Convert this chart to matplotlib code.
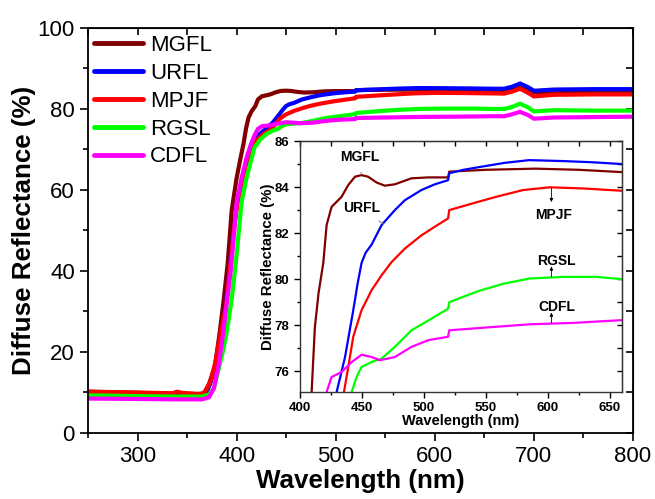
import matplotlib
matplotlib.use("Agg")
import matplotlib.pyplot as plt
import numpy as np

plt.rcParams['font.family'] = ['Liberation Sans', 'DejaVu Sans']

# ---- data (wavelength nm, reflectance %) ----
labels = ['MGFL', 'URFL', 'MPJF', 'RGSL', 'CDFL']
colors = ['#800000', '#0000ff', '#ff0000', '#00ff00', '#ff00ff']

mgfl_wl = [250, 300, 340, 360, 367, 372, 378, 383, 387, 391, 395, 400, 404, 407, 409.4, 412, 415,
           418.8, 421.5, 425.5, 429.6, 433.6, 439, 444.4, 449.7, 455, 461.8, 468.5, 476.6, 490,
           503.5, 519.6, 520.5, 550, 590, 625, 660, 670, 678, 686, 694, 700, 720, 760, 800]
mgfl_r = [10.2, 9.9, 9.7, 9.6, 9.8, 12, 16.4, 25, 33, 42, 55, 63, 68, 71.5, 75.1, 77.9, 79.4,
          80.7, 82.35, 83.14, 83.36, 83.58, 84.09, 84.45, 84.52, 84.45, 84.2, 84.06, 84.12, 84.38,
          84.42, 84.42, 84.67, 84.75, 84.8, 84.75, 84.65, 84.7, 85.2, 85.8, 85.0, 84.1, 84.3, 84.4, 84.4]

urfl_wl = [250, 300, 340, 360, 368, 373, 378, 383, 388, 392, 396, 400, 405, 410, 415, 420, 425,
           429.6, 436.3, 443, 446.5, 449.7, 453, 457.8, 465.9, 476.6, 484.7, 498, 508.9, 519.6,
           520.5, 532, 545, 565, 585, 612, 635, 660, 670, 678, 686, 694, 700, 720, 760, 800]
urfl_r = [9.2, 9.0, 9.0, 8.9, 9.2, 12, 16, 22, 30, 38, 48, 56, 62, 67, 70.5, 73, 74.2,
          75.1, 76.6, 78.65, 79.8, 80.7, 81.15, 81.5, 82.35, 83.0, 83.43, 83.87, 84.12, 84.3,
          84.6, 84.75, 84.87, 85.05, 85.17, 85.13, 85.08, 85.0, 85.0, 85.5, 86.3, 85.4, 84.5,
          84.8, 84.9, 84.9]

mpjf_wl = [250, 300, 335, 340, 345, 365, 369, 374, 379, 384, 389, 393, 397, 401, 405, 410, 415,
           420, 428, 435.5, 439, 443, 449.7, 457.8, 465.9, 473.9, 484.7, 498, 508.9, 519.6, 520.5,
           540, 558.6, 580, 601.6, 628.5, 660, 670, 678, 686, 694, 700, 720, 760, 800]
mpjf_r = [10.2, 10.0, 9.8, 10.2, 9.9, 9.6, 10.5, 13, 18, 25, 31, 40, 50, 57, 62, 66.5, 70,
          72.3, 74, 75.1, 76.19, 77.5, 78.65, 79.52, 80.17, 80.74, 81.33, 81.9, 82.28, 82.64, 83.0,
          83.3, 83.58, 83.87, 83.99, 83.94, 83.84, 83.8, 84.3, 85.0, 84.0, 83.1, 83.5, 83.6, 83.6]

rgsl_wl = [250, 300, 340, 365, 372, 377, 381, 386, 390, 395, 400, 405, 410, 418, 424, 430, 436,
           441.7, 445.7, 449.7, 457.8, 465.9, 476.6, 490, 503.5, 519.6, 520.5, 530, 545, 564,
           585.5, 612.4, 639.3, 660, 670, 678, 686, 694, 700, 720, 760, 800]
rgsl_r = [9.3, 9.1, 9.0, 9.0, 9.5, 11, 15, 20, 25, 33, 44, 57, 63, 70.5, 72.5, 73.8, 74.6,
          75.1, 75.75, 76.19, 76.4, 76.55, 77.06, 77.78, 78.2, 78.72, 79.0, 79.2, 79.5, 79.8,
          80.03, 80.1, 80.1, 80.0, 80.0, 80.5, 81.3, 80.4, 79.4, 79.7, 79.6, 79.6]

cdfl_wl = [250, 300, 340, 365, 372, 377, 382, 386, 390, 394, 397, 400, 405, 410, 414, 418, 421.5,
           425.5, 433.6, 441.7, 449.7, 457.8, 464.5, 476.6, 490, 503.5, 519.6, 520.5, 550, 585.5,
           620, 659.4, 670, 678, 686, 694, 700, 720, 760, 800]
cdfl_r = [8.5, 8.4, 8.3, 8.3, 8.8, 11, 17, 24, 32, 40, 48, 57, 63, 68, 71, 73.5, 75.1,
          75.75, 75.97, 76.4, 76.72, 76.62, 76.48, 76.62, 77.06, 77.35, 77.5, 77.78, 77.9, 78.04,
          78.1, 78.22, 78.2, 78.7, 79.3, 78.5, 77.6, 77.9, 78.0, 78.1]

series = [(mgfl_wl, mgfl_r), (urfl_wl, urfl_r), (mpjf_wl, mpjf_r), (rgsl_wl, rgsl_r), (cdfl_wl, cdfl_r)]

fig = plt.figure(figsize=(6.55, 4.99), dpi=100)

# ---- main axes ----
ax = fig.add_axes([0.1344, 0.1323, 0.832, 0.8116])
for (wl, r), lab, c in zip(series, labels, colors):
    ax.plot(wl, r, color=c, lw=3, label=lab, solid_capstyle='round', solid_joinstyle='round')

ax.set_xlim(250, 800)
ax.set_ylim(0, 100)
ax.set_xticks(np.arange(300, 801, 100))
ax.set_xticks(np.arange(250, 801, 50), minor=True)
ax.set_yticks(np.arange(0, 101, 20))
ax.set_yticks(np.arange(10, 100, 20), minor=True)
ax.tick_params(which='major', direction='out', length=6, width=1.2, labelsize=16)
ax.tick_params(which='minor', direction='out', length=3.5, width=1.2)
for s in ax.spines.values():
    s.set_linewidth(1.3)
ax.set_xlabel('Wavelength (nm)', fontsize=18.7, fontweight='bold', labelpad=1)
ax.set_ylabel('Diffuse Reflectance (%)', fontsize=18.7, fontweight='bold', labelpad=1)

top = ax.secondary_xaxis('top')
top.set_xticks(np.arange(250, 801, 50))
top.tick_params(direction='in', length=5, width=1.2, labeltop=False)
right = ax.secondary_yaxis('right')
right.set_yticks(np.arange(0, 101, 10))
right.tick_params(direction='in', length=5, width=1.2, labelright=False)

leg = ax.legend(loc='upper left', frameon=False, fontsize=16, handlelength=2.2,
                handletextpad=0.3, labelspacing=0.31, borderaxespad=0.0,
                bbox_to_anchor=(-0.005, 1.005))
for line in leg.get_lines():
    line.set_linewidth(3.5)

# ---- inset ----
ins = fig.add_axes([0.458, 0.2144, 0.4916, 0.503])
for (wl, r), c in zip(series, colors):
    ins.plot(wl, r, color=c, lw=1.6, solid_joinstyle='round')
ins.set_xlim(400, 660)
ins.set_ylim(75.1, 86)
ins.set_xticks(np.arange(400, 651, 50))
ins.set_xticks(np.arange(425, 660, 25), minor=True)
ins.set_yticks(np.arange(76, 86.1, 2))
ins.set_yticks(np.arange(77, 86, 2), minor=True)
ins.tick_params(which='major', direction='out', length=4, width=1, labelsize=9.5)
ins.tick_params(which='minor', direction='out', length=2.5, width=1)
for t in ins.get_xticklabels() + ins.get_yticklabels():
    t.set_fontweight('bold')
for s in ins.spines.values():
    s.set_linewidth(1.0)
    s.set_color('#333333')
ins.set_xlabel('Wavelength (nm)', fontsize=10.5, fontweight='bold', labelpad=0)
ins.set_ylabel('Diffuse Reflectance (%)', fontsize=10.8, fontweight='bold', labelpad=0)

itop = ins.secondary_xaxis('top')
itop.set_xticks(np.arange(400, 661, 25))
itop.tick_params(direction='in', length=3.5, width=1, labeltop=False)
iright = ins.secondary_yaxis('right')
iright.set_yticks(np.arange(76, 86.1, 1))
iright.tick_params(direction='in', length=3.5, width=1, labelright=False)

# annotations in the inset
akw = dict(fontsize=10, fontweight='bold', ha='center', va='center')
ins.annotate('MGFL', xy=(449.5, 84.55), xytext=(448, 85.3),
             arrowprops=dict(arrowstyle='-', color='gray', lw=0.8, shrinkA=4, shrinkB=0), **akw)
ins.annotate('URFL', xy=(467, 82.4), xytext=(450, 83.1),
             arrowprops=dict(arrowstyle='-', color='gray', lw=0.8, shrinkA=4, shrinkB=0), **akw)
ins.text(605, 82.8, 'MPJF', **akw)
ins.annotate('', xy=(603, 83.35), xytext=(603, 83.95),
             arrowprops=dict(arrowstyle='-|>', color='black', lw=0.6, mutation_scale=5,
                             shrinkA=0, shrinkB=0))
ins.text(607, 80.8, 'RGSL', **akw)
ins.annotate('', xy=(603, 80.55), xytext=(603, 80.1),
             arrowprops=dict(arrowstyle='-|>', color='black', lw=0.6, mutation_scale=5,
                             shrinkA=0, shrinkB=0))
ins.text(607, 78.8, 'CDFL', **akw)
ins.annotate('', xy=(603, 78.55), xytext=(603, 78.1),
             arrowprops=dict(arrowstyle='-|>', color='black', lw=0.6, mutation_scale=5,
                             shrinkA=0, shrinkB=0))

fig.savefig('out.png', dpi=100)
